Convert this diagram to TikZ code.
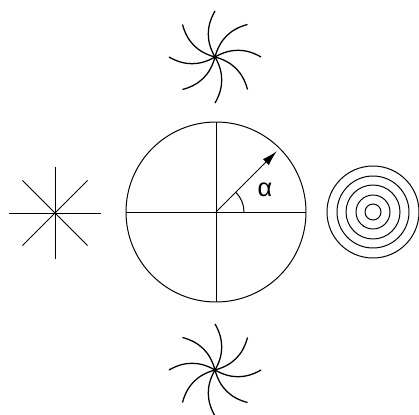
\documentclass[tikz,border=0pt]{standalone}
\usepackage{fontspec}
\setmainfont{Liberation Sans}
\usepackage{tikz}
\usetikzlibrary{arrows.meta}
\tikzset{
  linestyle/.style={line width=0.7pt, color=black},
  armstyle/.style={line width=0.9pt, color=black},
  vecarrow/.style={-{Latex[length=11pt,width=6pt]}, line width=0.7pt},
  anglabel/.style={font=\fontsize{18}{20}\selectfont, inner sep=0pt}
}
\begin{document}
\begin{tikzpicture}[x=0.025cm, y=0.025cm]
  \useasboundingbox (0,0) rectangle (419,414);

  % main disc with axes
  \coordinate (disc) at (216,202);
  \draw[linestyle] (disc) circle[radius=90];
  \draw[linestyle] ([shift={(-90,0)}]disc) -- ([shift={(90,0)}]disc);
  \draw[linestyle] ([shift={(0,-90)}]disc) -- ([shift={(0,90)}]disc);
  \coordinate (tip) at ([shift={(45:86)}]disc);
  \draw[vecarrow] (disc) -- (tip);
  \draw[linestyle] ([shift={(0:28)}]disc) arc[start angle=0, end angle=45, radius=28];
  \node[anglabel] (alpha) at (265,224) {α};

  % straight rays (left)
  \coordinate (star) at (55,201);
  \foreach \a in {0,45,...,315}
    \draw[linestyle] (star) -- ([shift={(\a:46)}]star);

  % concentric rings (right)
  \coordinate (rings) at (373,202);
  \foreach \r in {46,36,27,17,8}
    \draw[linestyle] (rings) circle[radius=\r];

  % curled arms (top)
  \coordinate (whirltop) at (215,357);
  \foreach \a in {0,45,...,315}
    \draw[armstyle] (whirltop) to[out=\a+30, in=\a+150] ([shift={(\a:46)}]whirltop);

  % curled arms (bottom)
  \coordinate (whirlbot) at (215,44);
  \foreach \a in {0,45,...,315}
    \draw[armstyle] (whirlbot) to[out=\a-30, in=\a-150] ([shift={(\a:46)}]whirlbot);
\end{tikzpicture}
\end{document}
